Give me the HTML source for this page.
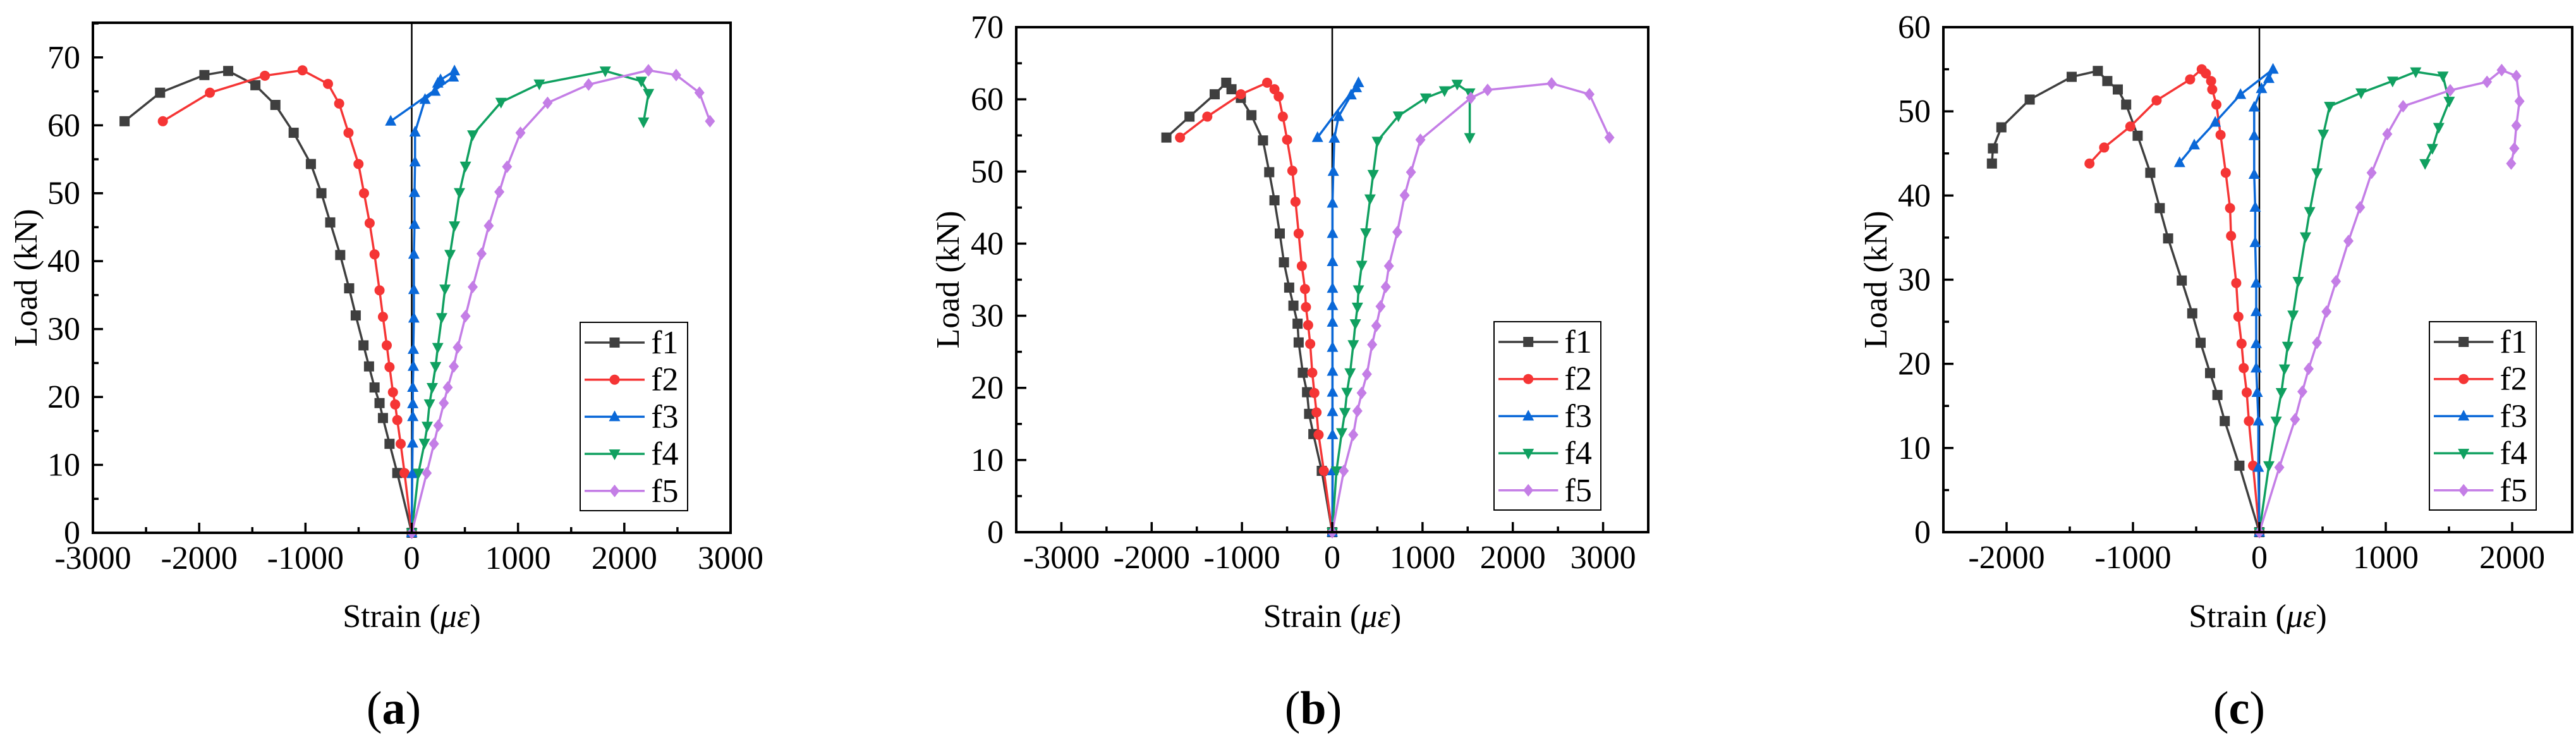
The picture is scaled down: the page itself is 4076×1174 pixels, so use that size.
<!DOCTYPE html>
<html><head><meta charset="utf-8"><style>
html,body{margin:0;padding:0;background:#fff}
svg{display:block;font-family:"Liberation Serif","Times New Roman","DejaVu Serif","Noto Serif CJK SC",serif}
svg text,svg tspan{font-family:"Liberation Serif","Times New Roman","DejaVu Serif","Noto Serif CJK SC",serif !important;fill:#000}
</style></head><body>
<svg id="fig" width="4076" height="1174" viewBox="0 0 4076 1174" xmlns="http://www.w3.org/2000/svg"></svg>
<script>
// ---- data: panel (a) ----
const aF1x=[-2702,-2368,-1951,-1727,-1471,-1283,-1111,-949,-850,-767,-673,-589,-527,-454,-402,-350,-303,-271,-209,-136,0];
const aF1y=[60.6,64.8,67.4,68.0,65.9,63.0,58.9,54.3,50.0,45.7,40.9,36.0,32.0,27.6,24.5,21.4,19.1,16.9,13.1,8.8,0];
const aF2x=[-2342,-1899,-1382,-1028,-788,-683,-595,-501,-449,-396,-350,-303,-271,-235,-209,-177,-156,-136,-104,-68,0];
const aF2y=[60.6,64.8,67.3,68.1,66.1,63.2,58.9,54.3,50.0,45.6,41.0,35.7,31.8,27.6,24.4,20.7,18.9,16.6,13.1,8.8,0];
const aF3x=[0,5,8,10,10,10,15,15,20,20,20,26,26,31,31,125,219,245,271,402,391,-198];
const aF3y=[0,8.7,13.2,17.1,19.0,21.4,24.5,27.0,31.6,35.8,41.0,45.4,50.1,54.6,59.0,63.8,65.0,66.2,66.7,68.0,67.1,60.6];
const aF4x=[0,63,120,146,167,193,224,245,282,313,360,402,449,506,574,840,1200,1821,2160,2228,2181];
const aF4y=[0,8.8,13.2,15.7,19.0,21.4,24.5,27.3,31.7,35.9,41.0,45.2,50.1,54.0,58.6,63.4,66.1,68.0,66.5,64.7,60.5];
const aF5x=[0,141,209,250,302,339,396,433,506,574,657,725,824,897,1023,1278,1664,2227,2488,2707,2806];
const aF5y=[0,8.8,13.1,15.8,19.1,21.4,24.5,27.3,31.9,36.2,41.1,45.2,50.2,53.9,58.9,63.3,66.0,68.1,67.4,64.8,60.6];
// ---- data: panel (b) ----
const bF1x=[-1837,-1581,-1302,-1174,-1116,-1012,-895,-767,-698,-640,-581,-535,-477,-430,-384,-372,-326,-279,-256,-209,-116,0];
const bF1y=[54.7,57.6,60.7,62.3,61.4,60.2,57.8,54.3,49.9,46.0,41.4,37.4,33.9,31.4,28.9,26.3,22.1,19.4,16.4,13.6,8.5,0];
const bF2x=[-1686,-1384,-1012,-721,-640,-593,-547,-500,-442,-407,-372,-337,-302,-291,-267,-244,-221,-198,-174,-151,-93,0];
const bF2y=[54.7,57.6,60.7,62.3,61.4,60.4,57.6,54.4,50.1,45.8,41.4,36.9,33.7,31.2,28.7,26.1,22.1,19.3,16.6,13.5,8.5,0];
const bF3x=[0,5,3,3,3,3,3,3,3,3,3,3,3,12,23,70,209,267,291,-163];
const bF3y=[0,8.5,13.5,16.7,19.4,22.3,25.6,29.1,31.4,33.8,37.5,41.4,45.6,50.0,54.6,57.6,60.6,61.6,62.3,54.7];
const bF4x=[0,47,105,140,163,198,233,256,279,291,326,372,419,453,500,733,1035,1244,1384,1523,1523];
const bF4y=[0,8.5,13.8,16.6,19.4,22.1,26.0,28.9,31.2,33.6,37.0,41.5,46.2,49.6,54.2,57.7,60.2,61.2,62.1,60.9,54.7];
const bF5x=[0,128,233,279,326,384,442,488,535,593,628,721,802,872,977,1535,1721,2430,2849,3070];
const bF5y=[0,8.5,13.5,16.8,19.3,21.9,26.0,28.6,31.3,34.0,36.9,41.6,46.7,49.9,54.4,60.2,61.3,62.2,60.7,54.7];
// ---- data: panel (c) ----
const cF1x=[-2116,-2108,-2041,-1817,-1485,-1278,-1203,-1120,-1054,-963,-863,-788,-722,-614,-531,-465,-390,-332,-274,-158,0];
const cF1y=[43.8,45.6,48.1,51.4,54.1,54.8,53.6,52.6,50.8,47.1,42.7,38.5,34.9,29.9,26.0,22.5,18.9,16.3,13.2,7.9,0];
const cF2x=[-1344,-1228,-1021,-813,-548,-456,-423,-382,-373,-340,-307,-266,-232,-224,-183,-166,-141,-124,-100,-83,-50,0];
const cF2y=[43.8,45.7,48.2,51.3,53.8,55.0,54.5,53.6,52.6,50.8,47.2,42.7,38.5,35.2,29.6,25.6,22.4,19.5,16.6,13.2,7.9,0];
const cF3x=[0,-8,-8,-17,-25,-25,-25,-25,-33,-33,-41,-41,-41,17,75,108,-149,-349,-515,-631];
const cF3y=[0,7.7,13.2,16.6,19.5,22.4,26.2,29.6,34.4,38.6,42.5,47.1,50.5,52.7,53.9,55.0,52.0,48.7,46.0,43.9];
const cF4x=[0,75,133,174,199,224,266,307,365,398,456,506,556,805,1054,1237,1452,1502,1419,1369,1311];
const cF4y=[0,7.9,13.2,16.6,19.4,22.1,25.8,29.8,35.1,38.1,42.7,47.3,50.6,52.2,53.6,54.7,54.2,51.2,48.1,45.6,43.8];
const cF5x=[0,158,282,340,390,456,531,606,705,797,888,1012,1137,1510,1801,1917,2033,2058,2033,2017,1992];
const cF5y=[0,7.7,13.4,16.7,19.4,22.5,26.2,29.8,34.6,38.6,42.7,47.3,50.6,52.5,53.5,54.9,54.2,51.2,48.3,45.6,43.8];
const seriesNames=["f1","f2","f3","f4","f5"];
const aXTicks=[-3000,-2000,-1000,0,1000,2000,3000];
const aYTicks=[0,10,20,30,40,50,60,70];
const bXTicks=[-3000,-2000,-1000,0,1000,2000,3000];
const bYTicks=[0,10,20,30,40,50,60,70];
const cXTicks=[-2000,-1000,0,1000,2000];
const cYTicks=[0,10,20,30,40,50,60];

const COLORS=["#3f3f3f","#f53535","#0a68d8","#10a060","#c47ee6"];
const SHAPES=["square","circle","up","down","diamond"];
const NS="http://www.w3.org/2000/svg";
const svg=document.getElementById("fig");
function mk(tag,attrs,parent){const e=document.createElementNS(NS,tag);for(const k in attrs)e.setAttribute(k,attrs[k]);(parent||svg).appendChild(e);return e;}
function marker(g,shape,x,y,c){
  let e;
  if(shape==="square")e=mk("rect",{x:x-8,y:y-8,width:16,height:16,fill:c},g);
  else if(shape==="circle")e=mk("circle",{cx:x,cy:y,r:8,fill:c},g);
  else if(shape==="up")e=mk("polygon",{points:`${x},${y-10} ${x+9},${y+7} ${x-9},${y+7}`,fill:c},g);
  else if(shape==="down")e=mk("polygon",{points:`${x},${y+10} ${x+9},${y-7} ${x-9},${y-7}`,fill:c},g);
  else e=mk("polygon",{points:`${x},${y-10} ${x+8},${y} ${x},${y+10} ${x-8},${y}`,fill:c},g);
  return e;
}
function panel(p){
  const g=mk("g",{});
  
  
  const X=v=>p.L+(v-p.xmin)/(p.xmax-p.xmin)*(p.R-p.L);
  const Y=v=>p.B-(v-p.ymin)/(p.ymax-p.ymin)*(p.B-p.T);
  const zl=mk("line",{x1:X(0),x2:X(0),y1:p.T,y2:p.B,stroke:"#000","stroke-width":2.5},g);
  
  
  for(let s=0;s<5;s++){
    const sg=mk("g",{},g);
    
    
    const xs=p.xs[s],ys=p.ys[s];
    const pts=xs.map((v,i)=>X(v).toFixed(1)+","+Y(ys[i]).toFixed(1)).join(" ");
    const pl=mk("polyline",{points:pts,fill:"none",stroke:COLORS[s],"stroke-width":3.5,"stroke-linejoin":"round"},sg);
    
    
    for(let i=0;i<xs.length;i++){
      const m=marker(sg,SHAPES[s],X(xs[i]),Y(ys[i]),COLORS[s]);
      
      
    }
  }
  const fr=mk("rect",{x:p.L,y:p.T,width:p.R-p.L,height:p.B-p.T,fill:"none",stroke:"#000","stroke-width":4},g);
  
  
  const xstep=p.xt[1]-p.xt[0];
  for(let v=p.xt[0]-xstep/2;v<=p.xmax;v+=xstep/2){
    if(v<p.xmin||v>p.xmax)continue;
    const major=p.xt.includes(v);
    mk("line",{x1:X(v),x2:X(v),y1:p.B,y2:p.B-(major?16:9),stroke:"#000","stroke-width":3.5},g);
  }
  p.xt.forEach(v=>{
    const t=mk("text",{x:X(v),y:p.B+57,"text-anchor":"middle","font-size":p.fs},g);
    t.textContent=String(v);
    
    
  });
  const ystep=p.yt[1]-p.yt[0];
  for(let v=p.ymin;v<=p.ymax;v+=ystep/2){
    const major=p.yt.includes(v);
    mk("line",{x1:p.L,x2:p.L+(major?16:9),y1:Y(v),y2:Y(v),stroke:"#000","stroke-width":3.5},g);
  }
  p.yt.forEach(v=>{
    const t=mk("text",{x:p.L-20,y:Y(v)+17,"text-anchor":"end","font-size":p.fs},g);
    t.textContent=String(v);
    
    
  });
  const xt=mk("text",{x:(p.L+p.R)/2,y:992,"text-anchor":"middle","font-size":52},g);
  xt.appendChild(document.createTextNode("Strain ("));
  const ts=mk("tspan",{"font-style":"italic"},xt); ts.textContent="με";
  xt.appendChild(document.createTextNode(")"));
  
  
  const yt=mk("text",{x:0,y:0,"text-anchor":"middle","font-size":52,transform:`translate(${p.ytx},${(p.T+p.B)/2}) rotate(-90)`},g);
  yt.textContent="Load (kN)";
  
  
  const lg=mk("g",{},g);
  
  
  mk("rect",{x:p.lx,y:p.ly,width:p.lw,height:298,fill:"#fff",stroke:"#000","stroke-width":2},lg);
  for(let s=0;s<5;s++){
    const yy=p.ly+32+s*58.7;
    const eg=mk("g",{},lg);
    
    
    mk("line",{x1:p.lx+7,x2:p.lx+p.lw*0.6,y1:yy,y2:yy,stroke:COLORS[s],"stroke-width":3.5},eg);
    marker(eg,SHAPES[s],p.lx+7+(p.lw*0.6-7)/2,yy,COLORS[s]);
    const t=mk("text",{x:p.lx+p.lw*0.66,y:yy+17,"font-size":52},eg);
    t.textContent=seriesNames[s];
  }
  const cap=mk("text",{x:p.capx,y:1145,"text-anchor":"middle","font-size":74},g);
  cap.appendChild(document.createTextNode("("));
  const cb=mk("tspan",{"font-weight":"bold"},cap); cb.textContent=p.cap;
  cap.appendChild(document.createTextNode(")"));
  
  
}
panel({name:"panel-a",L:147,R:1156,T:36,B:843,xmin:-3000,xmax:3000,ymin:0,ymax:75.1,xt:aXTicks,yt:aYTicks,fs:52,
  xs:[aF1x,aF2x,aF3x,aF4x,aF5x],ys:[aF1y,aF2y,aF3y,aF4y,aF5y],ytx:58,lx:918,ly:510,lw:170,capx:623,cap:"a"});
panel({name:"panel-b",L:1608,R:2608,T:43,B:842,xmin:-3500,xmax:3500,ymin:0,ymax:70,xt:bXTicks,yt:bYTicks,fs:52,
  xs:[bF1x,bF2x,bF3x,bF4x,bF5x],ys:[bF1y,bF2y,bF3y,bF4y,bF5y],ytx:1517,lx:2364,ly:509,lw:169,capx:2078,cap:"b"});
panel({name:"panel-c",L:3075,R:4070,T:43,B:842,xmin:-2500,xmax:2475,ymin:0,ymax:60,xt:cXTicks,yt:cYTicks,fs:52,
  xs:[cF1x,cF2x,cF3x,cF4x,cF5x],ys:[cF1y,cF2y,cF3y,cF4y,cF5y],ytx:2985,lx:3844,ly:509,lw:169,capx:3543,cap:"c"});
</script>
</body></html>
